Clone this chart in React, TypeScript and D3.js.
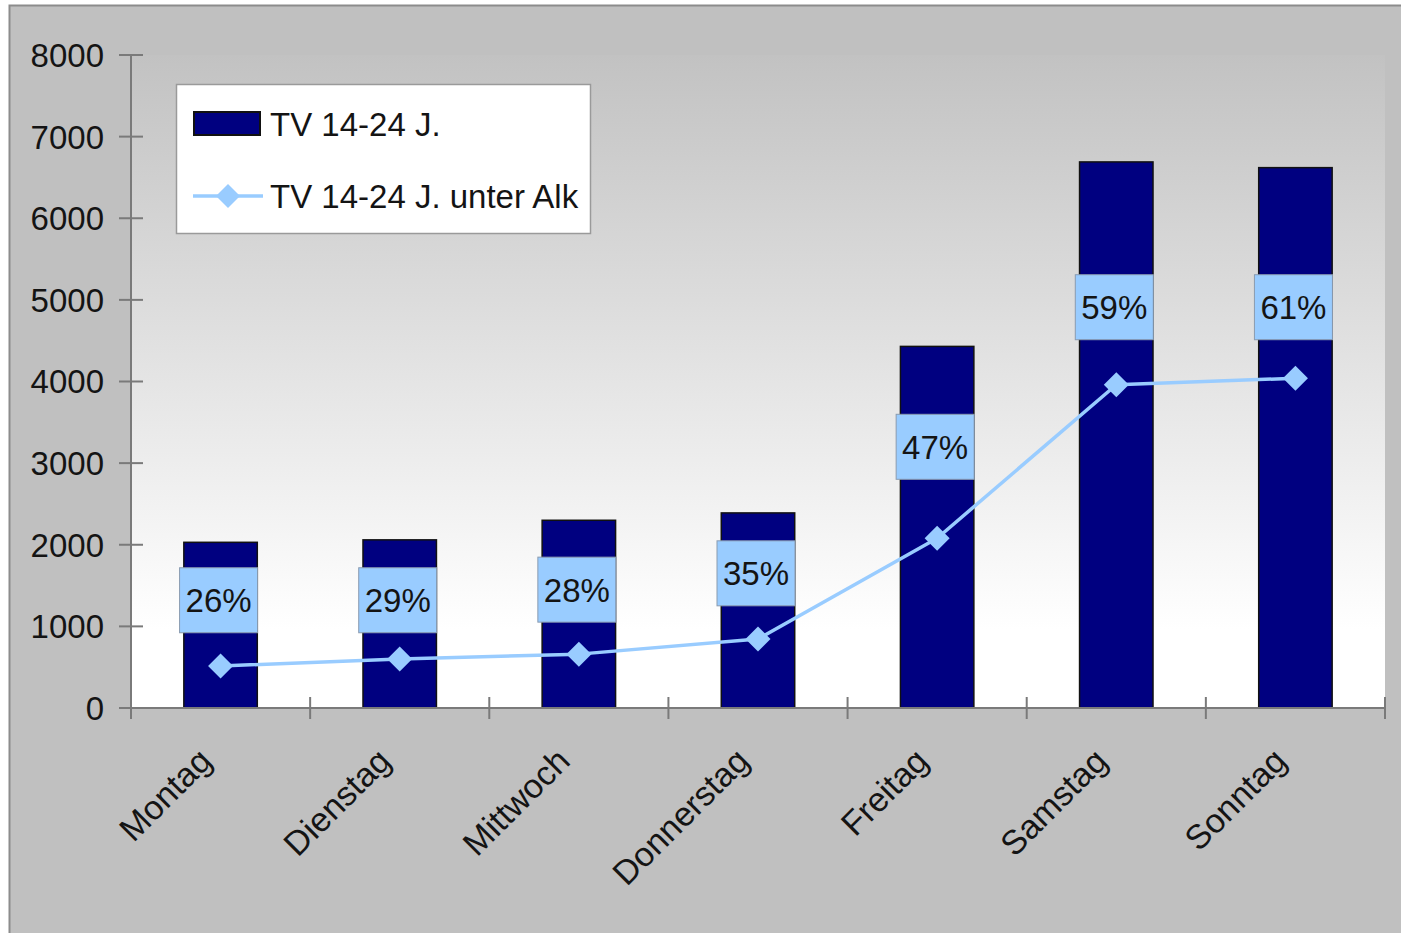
import { useEffect, useRef } from "react";
import * as d3 from "d3";

const days = ["Montag", "Dienstag", "Mittwoch", "Donnerstag", "Freitag", "Samstag", "Sonntag"];
const tvTotal = [2030, 2060, 2300, 2390, 4430, 6690, 6620];
const tvAlk = [515, 600, 660, 845, 2080, 3960, 4040];
const shareLabels = ["26%", "29%", "28%", "35%", "47%", "59%", "61%"];
// where Excel left the percentage boxes (in y-axis units)
const shareLabelAt = [1320, 1320, 1450, 1650, 3200, 4910, 4910];
const yTicks = [0, 1000, 2000, 3000, 4000, 5000, 6000, 7000, 8000];

const legendItems = ["TV 14-24 J.", "TV 14-24 J. unter Alk"];

const W = 1401;
const H = 933;
const FONT = "'Liberation Sans', Arial, sans-serif";

export default function App() {
  const svgRef = useRef<SVGSVGElement>(null);

  useEffect(() => {
    if (!svgRef.current) return;
    const svg = d3.select(svgRef.current);
    svg.selectAll("*").remove();

    const plot = { left: 131, right: 1385, top: 55, bottom: 708 };

    const x = d3.scaleBand<string>().domain(days).range([plot.left, plot.right]).padding(0);
    const y = d3.scaleLinear().domain([0, 8000]).range([plot.bottom, plot.top]);
    const barW = x.bandwidth() * 0.41;
    const cx = (d: string) => (x(d) ?? 0) + x.bandwidth() / 2;

    // gradient for plot area
    const defs = svg.append("defs");
    const grad = defs
      .append("linearGradient")
      .attr("id", "plotBg")
      .attr("x1", 0)
      .attr("y1", 0)
      .attr("x2", 0)
      .attr("y2", 1);
    grad.append("stop").attr("offset", "0%").attr("stop-color", "#c2c2c2");
    grad.append("stop").attr("offset", "88%").attr("stop-color", "#ffffff");
    grad.append("stop").attr("offset", "100%").attr("stop-color", "#ffffff");

    // page and chart area
    svg.append("rect").attr("width", W).attr("height", H).attr("fill", "#ffffff");
    svg
      .append("rect")
      .attr("x", 9.5)
      .attr("y", 5.5)
      .attr("width", W)
      .attr("height", H)
      .attr("fill", "#c0c0c0")
      .attr("stroke", "#8c8c8c")
      .attr("stroke-width", 2);

    svg
      .append("rect")
      .attr("x", plot.left)
      .attr("y", plot.top)
      .attr("width", plot.right - plot.left)
      .attr("height", plot.bottom - plot.top)
      .attr("fill", "url(#plotBg)");

    // bars
    svg
      .append("g")
      .selectAll("rect")
      .data(days)
      .join("rect")
      .attr("x", (d) => cx(d) - barW / 2)
      .attr("y", (_, i) => y(tvTotal[i]))
      .attr("width", barW)
      .attr("height", (_, i) => y(0) - y(tvTotal[i]))
      .attr("fill", "#000080")
      .attr("stroke", "#111")
      .attr("stroke-width", 1.5);

    // Y axis
    const axisColor = "#7a7a7a";
    const yAxis = svg.append("g");
    yAxis
      .append("line")
      .attr("x1", plot.left)
      .attr("x2", plot.left)
      .attr("y1", plot.top)
      .attr("y2", plot.bottom)
      .attr("stroke", axisColor)
      .attr("stroke-width", 2);
    yAxis
      .selectAll("line.tick")
      .data(yTicks)
      .join("line")
      .attr("class", "tick")
      .attr("x1", plot.left - 12)
      .attr("x2", plot.left + 12)
      .attr("y1", (d) => y(d))
      .attr("y2", (d) => y(d))
      .attr("stroke", axisColor)
      .attr("stroke-width", 2);
    yAxis
      .selectAll("text")
      .data(yTicks)
      .join("text")
      .attr("x", 104)
      .attr("y", (d) => y(d))
      .attr("dy", "0.36em")
      .attr("text-anchor", "end")
      .attr("font-family", FONT)
      .attr("font-size", 33)
      .attr("fill", "#141414")
      .text((d) => String(d));

    // X axis
    const xAxis = svg.append("g");
    xAxis
      .append("line")
      .attr("x1", plot.left - 12)
      .attr("x2", plot.right)
      .attr("y1", plot.bottom)
      .attr("y2", plot.bottom)
      .attr("stroke", axisColor)
      .attr("stroke-width", 2);
    const bounds = [...days.map((d) => x(d) ?? 0), plot.right];
    xAxis
      .selectAll("line.tick")
      .data(bounds)
      .join("line")
      .attr("class", "tick")
      .attr("x1", (d) => d)
      .attr("x2", (d) => d)
      .attr("y1", plot.bottom - 11)
      .attr("y2", plot.bottom + 11)
      .attr("stroke", axisColor)
      .attr("stroke-width", 2);
    xAxis
      .selectAll("text")
      .data(days)
      .join("text")
      .attr("transform", (d) => `translate(${cx(d) - 7},${plot.bottom + 55}) rotate(-45)`)
      .attr("text-anchor", "end")
      .attr("font-family", FONT)
      .attr("font-size", 34)
      .attr("fill", "#141414")
      .text((d) => d);

    // line series
    const line = d3
      .line<number>()
      .x((_, i) => cx(days[i]))
      .y((v) => y(v));
    svg
      .append("path")
      .datum(tvAlk)
      .attr("d", line)
      .attr("fill", "none")
      .attr("stroke", "#99ccff")
      .attr("stroke-width", 3.5)
      .attr("stroke-linejoin", "round");

    const diamond = (px: number, py: number, r: number) =>
      `M${px},${py - r}L${px + r},${py}L${px},${py + r}L${px - r},${py}Z`;
    svg
      .append("g")
      .selectAll("path")
      .data(tvAlk)
      .join("path")
      .attr("d", (v, i) => diamond(cx(days[i]), y(v), 12.5))
      .attr("fill", "#99ccff");

    // percentage boxes
    const boxW = 78;
    const boxH = 65;
    const lbl = svg
      .append("g")
      .selectAll("g")
      .data(shareLabels)
      .join("g")
      .attr("transform", (_, i) => `translate(${cx(days[i]) - 2},${y(shareLabelAt[i])})`);
    lbl
      .append("rect")
      .attr("x", -boxW / 2)
      .attr("y", -boxH / 2)
      .attr("width", boxW)
      .attr("height", boxH)
      .attr("fill", "#99ccff")
      .attr("stroke", "#8a9bb0")
      .attr("stroke-width", 1);
    lbl
      .append("text")
      .attr("text-anchor", "middle")
      .attr("dy", "0.36em")
      .attr("font-family", FONT)
      .attr("font-size", 33)
      .attr("fill", "#141414")
      .text((d) => d);

    // legend
    const lg = svg.append("g");
    lg.append("rect")
      .attr("x", 176.5)
      .attr("y", 84.5)
      .attr("width", 414)
      .attr("height", 149)
      .attr("fill", "#ffffff")
      .attr("stroke", "#9a9a9a")
      .attr("stroke-width", 1.5);
    lg.append("rect")
      .attr("x", 194)
      .attr("y", 112)
      .attr("width", 66)
      .attr("height", 23)
      .attr("fill", "#000080")
      .attr("stroke", "#111")
      .attr("stroke-width", 2);
    lg.append("line")
      .attr("x1", 193)
      .attr("x2", 263)
      .attr("y1", 196)
      .attr("y2", 196)
      .attr("stroke", "#99ccff")
      .attr("stroke-width", 3.5);
    lg.append("path").attr("d", diamond(228, 196, 12)).attr("fill", "#99ccff");
    lg.selectAll("text")
      .data(legendItems)
      .join("text")
      .attr("x", 270)
      .attr("y", (_, i) => 124 + i * 72)
      .attr("dy", "0.36em")
      .attr("font-family", FONT)
      .attr("font-size", 33)
      .attr("fill", "#141414")
      .text((d) => d);
  }, []);

  return (
    <div style={{ position: "absolute", left: 0, top: 0 }}>
      <svg ref={svgRef} width={W} height={H} style={{ display: "block" }} />
    </div>
  );
}
